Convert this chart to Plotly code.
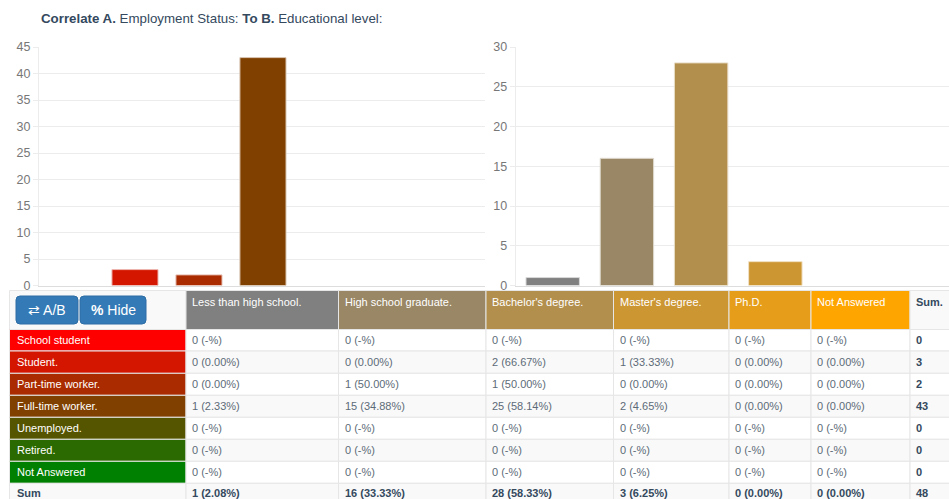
import plotly.graph_objects as go

W, H = 949, 499

row_labels = ["School student", "Student.", "Part-time worker.", "Full-time worker.",
              "Unemployed.", "Retired.", "Not Answered"]
col_labels = ["Less than high school.", "High school graduate.", "Bachelor's degree.",
              "Master's degree.", "Ph.D.", "Not Answered"]
school_student = [0, 0, 0, 0, 0, 0]
student = [0, 0, 2, 1, 0, 0]
part_time = [0, 1, 1, 0, 0, 0]
full_time = [1, 15, 25, 2, 0, 0]
unemployed = [0, 0, 0, 0, 0, 0]
retired = [0, 0, 0, 0, 0, 0]
not_answered = [0, 0, 0, 0, 0, 0]
counts = [school_student, student, part_time, full_time, unemployed, retired, not_answered]

row_colors = ["#ff0000", "#d41500", "#aa2b00", "#804000", "#555500", "#2b6a00", "#008000"]
col_colors = ["#808080", "#998766", "#b38f4d", "#cc9633", "#e69e1a", "#ffa500"]
row_edges = ["#ffb3b3", "#eeb9b3", "#e6bfb3", "#d9c6b3", "#ccccb3", "#bfd2b3", "#b3d9b3"]
col_edges = ["#d9d9d9", "#e0dbd1", "#e8ddc9", "#f0e0c2", "#f8e2ba", "#ffe4b3"]

row_totals = [sum(r) for r in counts]
col_totals = [sum(c) for c in zip(*counts)]
grand = sum(row_totals)


def pct(v, total):
    return f"{v} (-%)" if total == 0 else f"{v} ({100 * v / total:.2f}%)"


INK = "#34495e"
MUTED = "#5d6b78"
STRIPE = "#f9f9f9"
WHITE = "#ffffff"
BORDER = "#e6e6e6"
n = len(row_labels)
m = len(col_labels)

col_x = [9.5, 186, 338.5, 486, 613.5, 729, 811, 910, 960]
row_y = [290.5, 329.5, 351, 373.3, 395.3, 417.3, 439.3, 461.3, 483.3, 505]

grid_rows = [[""] + col_labels + ["<b>Sum.</b>"]]
grid_fill = [[STRIPE] + col_colors + [STRIPE]]
grid_ink = [[WHITE] * (m + 1) + [INK]]
for i in range(n):
    grid_rows.append([row_labels[i]] + [pct(counts[i][j], row_totals[i]) for j in range(m)]
                     + [f"<b>{row_totals[i]}</b>"])
    stripe = WHITE if i % 2 == 0 else STRIPE
    grid_fill.append([row_colors[i]] + [stripe] * (m + 1))
    grid_ink.append([WHITE] + [MUTED] * m + [INK])
grid_rows.append(["<b>Sum</b>"] + [f"<b>{pct(col_totals[j], grand)}</b>" for j in range(m)]
                 + [f"<b>{grand}</b>"])
grid_fill.append([STRIPE] * (m + 2))
grid_ink.append([INK] * (m + 2))

# The table, title and buttons live on a hidden axis pair whose units are pixels of the page.
PAGE = dict(xref="x3", yref="y3")
shapes = []
annotations = [dict(
    x=39, y=18.5, xanchor="left", yanchor="middle", showarrow=False,
    text="<b>Correlate A.</b> Employment Status: <b>To B.</b> Educational level:",
    font=dict(family="Liberation Sans", size=13.3, color=INK), **PAGE,
)]
for r, cells in enumerate(grid_rows):
    for c, txt in enumerate(cells):
        shapes.append(dict(type="rect", layer="above",
                           x0=col_x[c], x1=col_x[c + 1], y0=row_y[r], y1=row_y[r + 1],
                           fillcolor=grid_fill[r][c], line=dict(color=BORDER, width=1), **PAGE))
        if txt:
            left = col_x[c] + (5.5 if c == 0 else 4)
            mid = 302 if r == 0 else (row_y[r] + row_y[r + 1]) / 2
            if r == n + 1:
                mid = 492.5
            annotations.append(dict(
                x=left, y=mid, xanchor="left", yanchor="middle", showarrow=False, text=txt,
                font=dict(family="Liberation Sans", size=11, color=grid_ink[r][c]), **PAGE))


def rounded(a, t, b, u, rad=4):
    return (f"M{a + rad},{t} L{b - rad},{t} Q{b},{t} {b},{t + rad} L{b},{u - rad} Q{b},{u} {b - rad},{u} "
            f"L{a + rad},{u} Q{a},{u} {a},{u - rad} L{a},{t + rad} Q{a},{t} {a + rad},{t} Z")


buttons = [("⇄ A/B", 16, 78), ("<b>%</b> Hide", 80, 146)]
for label, x0, x1 in buttons:
    shapes.append(dict(type="path", layer="above", path=rounded(x0, 296, x1, 324),
                       fillcolor="#337ab7", line=dict(color="#2e6da4", width=1), **PAGE))
    annotations.append(dict(x=(x0 + x1) / 2, y=310, xanchor="center", yanchor="middle",
                            showarrow=False, text=label,
                            font=dict(family="Liberation Sans", size=14, color="white"), **PAGE))

fig = go.Figure()
fig.add_trace(go.Bar(x=row_labels, y=row_totals, xaxis="x", yaxis="y",
                     marker=dict(color=row_colors,
                                 line=dict(color=row_edges, width=[1 if v else 0 for v in row_totals])),
                     showlegend=False, hoverinfo="x+y"))
fig.add_trace(go.Bar(x=col_labels, y=col_totals, xaxis="x2", yaxis="y2",
                     marker=dict(color=col_colors,
                                 line=dict(color=col_edges, width=[1 if v else 0 for v in col_totals])),
                     showlegend=False, hoverinfo="x+y"))
fig.add_trace(go.Scatter(x=[], y=[], xaxis="x3", yaxis="y3", showlegend=False, hoverinfo="skip"))

grid = "#ececec"
tickfont = dict(family="Liberation Sans", size=12.5, color="#777777")


def xaxis(domain, rng, anchor):
    return dict(domain=domain, range=rng, anchor=anchor, type="category", showticklabels=False,
                showgrid=False, showline=True, linecolor="#dddddd", ticks="", fixedrange=True,
                automargin=False)


def yaxis(domain, rng, dtick, anchor):
    return dict(domain=domain, range=rng, dtick=dtick, anchor=anchor, tickfont=tickfont,
                showgrid=True, gridcolor=grid, gridwidth=1, zeroline=False,
                showline=True, linecolor=grid, ticks="outside", ticklen=5, tickcolor=grid,
                fixedrange=True, automargin=False)


y_dom = [1 - 285.5 / H, 1 - 47 / H]
fig.update_layout(
    width=W, height=H, autosize=False,
    margin=dict(l=0, r=0, t=0, b=0),
    paper_bgcolor="white", plot_bgcolor="rgba(0,0,0,0)",
    bargap=0.28,
    xaxis=xaxis([39 / W, 485 / W], [-0.5, 6.47], "y"),
    xaxis2=xaxis([515.6 / W, 1], [-0.5, 5.34], "y2"),
    yaxis=yaxis(y_dom, [0, 45], 5, "x"),
    yaxis2=yaxis(y_dom, [0, 30], 5, "x2"),
    xaxis3=dict(domain=[0, 1], range=[0, W], visible=False, anchor="y3", fixedrange=True,
                automargin=False),
    yaxis3=dict(domain=[0, 1], range=[H, 0], visible=False, anchor="x3", fixedrange=True,
                automargin=False),
    shapes=shapes,
    annotations=annotations,
)

fig.write_html("out.html", config=dict(displayModeBar=False),
               post_script="document.body.style.margin='0';document.body.style.overflow='hidden';")
